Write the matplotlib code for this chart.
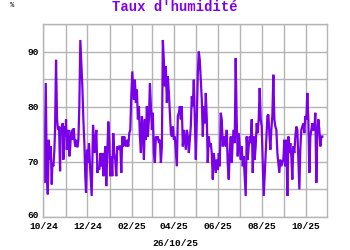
import numpy as np
import pandas as pd
import matplotlib
matplotlib.use("Agg")
import matplotlib.pyplot as plt
import matplotlib.dates as mdates
from matplotlib.ticker import MultipleLocator
from matplotlib.transforms import ScaledTranslation

# days counted from 2024-10-01, humidity in %
days = [0, 1.4, 3.3, 4.7, 6.1, 7.5, 8.9, 10.2, 11.6, 12.5, 13.9, 15.3, 16.2, 17.6,
        19, 20.4, 21.8, 23.2, 24.1, 25.5, 26.9, 27.8, 29.2, 30.6, 31.5, 32.5, 33.8,
        34.8, 36.1, 37.1, 38.5, 39.8, 41.2, 42.2, 43.6, 44.5, 45.5, 46.4, 47.7, 48.7,
        50, 51.4, 52.8, 54.2, 55.6, 57, 58.3, 59.3, 60.7,
        61.6, 63.5, 64.9, 67.2, 69.1, 71, 72.3, 73.7, 75.1, 76.4, 77.8, 79.2, 80.6,
        82, 83.4, 84.8, 86.2, 87.5, 88.9, 90.3, 91.7, 93.1, 94.5, 95.9, 97.2, 98.6,
        100, 101.4, 102.8, 104.2, 105.6, 107, 108.4, 109.8, 111.2, 112.5, 113.9,
        115.3, 116.7, 118.1, 119.5, 120.9, 122.3, 123.7,
        125.9, 127.3, 128.7, 130.1, 131.5, 132.9, 134.3, 135.7, 137.1, 138.5, 139.9,
        141.2, 142.6, 144, 145.4, 146.8, 148.2, 149.6, 151, 152.3, 153.7, 155.1,
        156.5, 157.9, 159.3, 160.7, 162.1, 163.5, 164.9, 166.2, 167.6, 169, 170.4,
        171.8, 173.2, 174.6, 176, 177.4, 178.8, 180.2, 181.6, 182.9,
        185.7, 187.1, 188.5, 189.9, 191.2, 192.6, 194, 195.4, 196.8, 198.2, 199.6,
        201, 202.4, 203.7, 205.1, 206.5, 207.9, 209.3, 210.7, 212.1, 213.5, 214.9,
        216.2, 217.6, 219, 220.4, 221.8, 223.2, 224.6, 226, 227.4, 228.7, 230.1,
        231.5, 232.9, 234.3, 235.7, 237.1, 238.5, 239.9, 241.3, 242.7, 244.1, 245.4,
        246.8, 248.2, 249.6, 251,
        252.3, 253.7, 255.1, 256.5, 257.9, 259.3, 260.7, 262.1, 263.5, 264.9, 266.2,
        267.6, 269, 270.4, 271.8, 273.2, 274.6, 276, 277.4, 278.7, 280.1, 281.5,
        282.9, 284.3, 285.7, 287.1, 288.5, 289.9, 291.3, 292.7, 294, 295.4, 296.8,
        298.2, 299.6, 301, 302.4, 303.8, 305.2, 306.6,
        310.3, 311.7, 313.1, 314.4, 315.8, 317.2, 318.6, 320, 321.4, 322.8, 324.2,
        325.6, 327, 328.3, 329.7, 331.1, 332.5, 333.9, 335.3, 336.7, 338.1, 339.5,
        340.9, 342.3, 343.6, 345, 346.4, 347.8, 349.2, 350.6, 352, 353.4, 354.8,
        356.2, 357.5, 358.9, 360.3, 361.7, 363.1, 364.5, 365.9, 367.3, 368.7, 370.1,
        371.5, 372.8, 374.2, 375.6, 377, 378.4, 379.8, 381.2, 382.6, 384, 385.4,
        386.8, 388.2]

humidity = [70.4, 66.2, 84.3, 68, 64.1, 74, 70.4, 72.8, 65.9, 69.8, 69.2, 72.2, 75.8, 88.5,
            77.7, 75.8, 76.4, 68.3, 75.8, 76.4, 77, 70.4, 76.4, 74.6, 77.7, 72.2, 74.6,
            75.8, 71, 72.2, 75.2, 75.8, 74, 76.1, 73.4, 72.8, 74, 72.8, 72.8, 74,
            80.1, 92.1, 87.9, 83.7, 77.7, 73.4, 67.4, 64.4, 72.2,
            69.8, 73.4, 69.2, 63.8, 76.7, 71.6, 74, 75.8, 68, 69.2, 68.6, 71.6, 69.2,
            71.6, 67.4, 70.4, 72.8, 65.6, 71.6, 77.3, 74, 67.4, 71, 67.4, 75.2, 71.6,
            70.4, 67.4, 72.8, 72.2, 72.8, 72.8, 68, 74.6, 72.8, 74.6, 73.4,
            72.8, 74, 72.8, 75.2, 75.8, 81.9, 86.4,
            81.3, 84.9, 80.7, 83.1, 77.7, 80.1, 74.6, 71.6, 78.3, 75.8, 70.4,
            77.7, 74, 80.1, 74.6, 77.7, 84.3, 80.1, 75.8, 78.9, 71.6, 69.8,
            74.6, 74, 74.6, 73.4, 74, 69.8, 72.8, 92.1, 88.5, 83.7, 87.3,
            80.7, 85.5, 82.5, 78.9, 75.2, 74.6, 76.4, 74, 74.6,
            69.2, 78.3, 78.9, 80.1, 77.7, 80.1, 72.8, 75.8, 74, 72.2, 75.8,
            74.6, 71.6, 74, 76.4, 81.9, 80.1, 84.9, 77.7, 70.4, 77.7, 86.1,
            90, 88.5, 84.9, 81.3, 74.6, 80.1, 77, 82.5, 77.7, 69.8, 74.6,
            72.8, 73.4, 71.6, 66.8, 71.6, 69.8, 68, 70.4, 68.6, 71.6, 69.2,
            78.9, 77.7, 72.8, 74.6,
            74, 72.8, 75.8, 69.8, 66.8, 71.6, 74.6, 69.8, 74, 75.8, 73.4,
            88.8, 77.7, 71, 75.2, 72.8, 70.4, 72.8, 69.2, 71, 67.4, 63.8,
            74.6, 70.4, 72.8, 74.6, 73.4, 77.7, 68, 74.6, 70.4, 72.8, 77,
            75.2, 77.7, 83.4, 77.7, 76.4, 70.4, 63.8,
            74.6, 78.3, 78.6, 75.2, 72.2, 75.8, 78.3, 85.8, 77.7, 76.4, 75.8,
            71.6, 69.8, 68, 70.4, 69.2, 69.8, 70.4, 74, 69.2, 74, 63.8,
            74.6, 71.6, 73.4, 71, 66.8, 72.8, 71.6, 74.6, 76.4, 75.8, 70.4,
            65, 72.2, 75.8, 76.4, 77, 75.2, 78.3, 77.7, 82.5, 77.7, 68,
            74.6, 75.8, 77, 75.8, 75.8, 78.9, 66.2, 75.2, 77.7, 75.8, 72.8,
            74.6, 74.6]

start = pd.Timestamp("2024-10-01")
end = pd.Timestamp("2025-10-31")
dates = start + pd.to_timedelta(days, unit="D")

purple = "#7a00ea"
grid_col = "#b4b4b4"
mono = "Liberation Mono"

fig = plt.figure(figsize=(3.5, 2.5), dpi=100)
ax = fig.add_axes([0.124, 0.132, 0.811, 0.772])

ax.plot(dates, humidity, color=purple, lw=1.6, solid_joinstyle="miter")

ax.set_xlim(start, end)
ax.set_ylim(60, 95)
ax.yaxis.set_major_locator(MultipleLocator(10))
ax.yaxis.set_minor_locator(MultipleLocator(5))
ax.xaxis.set_major_locator(mdates.MonthLocator(bymonth=[2, 4, 6, 8, 10, 12]))
ax.xaxis.set_minor_locator(mdates.MonthLocator())
ax.xaxis.set_major_formatter(mdates.DateFormatter("%m/%y"))

ax.grid(True, which="both", color=grid_col, lw=1.0)
ax.set_axisbelow(True)
for s in ax.spines.values():
    s.set_color(grid_col)
    s.set_linewidth(1.0)
ax.tick_params(which="both", length=0)
ax.tick_params(axis="x", pad=3.5)
ax.tick_params(axis="y", pad=3)
for lab in ax.get_xticklabels() + ax.get_yticklabels():
    lab.set_fontfamily(mono)
    lab.set_fontweight("bold")
    lab.set_fontsize(6.8)

fig.canvas.draw()
# the bottom "60" sits a bit above its gridline, clear of the date labels
for lab in ax.get_yticklabels():
    if lab.get_text() == "60":
        lab.set_transform(lab.get_transform() + ScaledTranslation(0, 2 / 72, fig.dpi_scale_trans))

fig.text(0.5, 0.972, "Taux d'humidité", ha="center", va="center",
         family=mono, weight="bold", fontsize=10, color="#8000f0")
fig.text(0.035, 0.978, "%", ha="center", va="center", family=mono,
         weight="bold", fontsize=5, color="#333333")
fig.text(0.5, 0.024, "26/10/25", ha="center", va="center", family=mono,
         weight="bold", fontsize=6.8)

fig.savefig("out.png", dpi=100)
